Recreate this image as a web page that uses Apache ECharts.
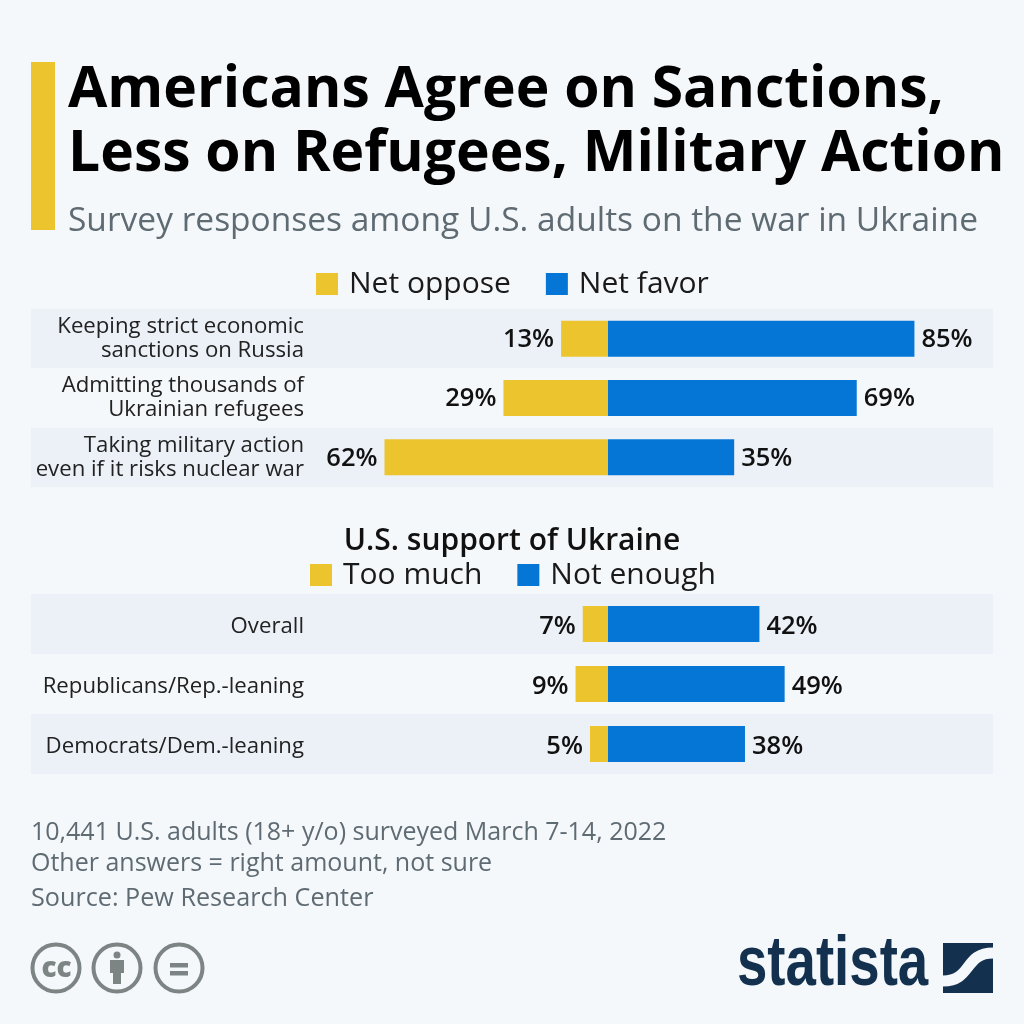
<!DOCTYPE html>
<html><head><meta charset="utf-8">
<style>html,body{margin:0;padding:0;background:#f5f8fb}#c{width:1024px;height:1024px}</style>
<script src="https://cdn.jsdelivr.net/npm/echarts@6/dist/echarts.min.js"></script>
</head><body><div id="c"></div>
<script>
const policyCategories = ['Keeping strict economic\nsanctions on Russia','Admitting thousands of\nUkrainian refugees','Taking military action\neven if it risks nuclear war'];
const netOppose = [13,29,62];
const netFavor = [85,69,35];
const supportCategories = ['Overall','Republicans/Rep.-leaning','Democrats/Dem.-leaning'];
const tooMuch = [7,9,5];
const notEnough = [42,49,38];

const YEL='#ebc42e', BLU='#0676d6', BAND='#ecf1f8', GREY='#5f6b73', F='Open Sans';
const BG='#f5f8fb';
const xMin=(31-608)/3.605, xMax=(993-608)/3.605;
function xAx(i){return {gridIndex:i,type:'value',min:xMin,max:xMax,show:false};}
function yAx(i,cats,shift){
  const label={inside:true,align:'right',margin:273,color:'#222',fontFamily:F,fontSize:22.2,lineHeight:24};
  if(shift){label.formatter=v=>'{a|'+v+'}';
    label.rich={a:{color:'#222',fontFamily:F,fontSize:22.2,lineHeight:24,padding:[shift,0,0,0]}};}
  return {gridIndex:i,type:'category',data:cats,inverse:true,
  axisLine:{show:false},axisTick:{show:false},splitLine:{show:false},
  splitArea:{show:true,areaStyle:{color:[BAND,'rgba(0,0,0,0)']}},axisLabel:label};}
function ser(name,i,vals,color,neg,dy){return {name,type:'bar',xAxisIndex:i,yAxisIndex:i,stack:'s'+i,barWidth:36,
  data:vals.map(v=>neg?-v:v),itemStyle:{color},animation:false,
  label:{show:true,position:neg?'left':'right',distance:7,offset:[0,dy],color:'#111',fontFamily:F,fontWeight:600,fontSize:25.5,
    formatter:p=>Math.abs(p.value)+'%'}};}
function leg(names,left,top,gap){return {data:names,left,top,orient:'horizontal',itemWidth:22,itemHeight:22,itemGap:gap,
  icon:'rect',textStyle:{fontFamily:F,fontSize:30,color:'#1a1a1a',padding:[0,0,0,6]},selectedMode:false};}
function t(text,x,y,size,weight,color,fam){return {type:'text',x,y,silent:true,
  style:{text,x:0,y:0,fontFamily:fam||F,fontSize:size,fontWeight:weight,fill:color,textVerticalAlign:'top'}};}
function circle(cx,cy){return {type:'circle',shape:{cx,cy,r:23.5},silent:true,style:{fill:'none',stroke:'#7d8484',lineWidth:4}};}
function rect(x,y,w,h,fill){return {type:'rect',shape:{x,y,width:w,height:h},silent:true,style:{fill}};}
const NAVY='#14304f';

const chart=echarts.init(document.getElementById('c'),null,{renderer:'canvas'});
chart.setOption({
  animation:false,backgroundColor:BG,
  title:[{text:'U.S. support of Ukraine',left:'center',top:526,padding:0,itemGap:0,
    textStyle:{fontFamily:F,fontSize:30,fontWeight:600,color:'#111'}}],
  legend:[leg(['Net oppose','Net favor'],311,264,35),leg(['Too much','Not enough'],305,555,35)],
  grid:[{left:31,width:962,top:309,height:178},{left:31,width:962,top:594,height:180}],
  xAxis:[xAx(0),xAx(1)],
  yAxis:[yAx(0,policyCategories,0),yAx(1,supportCategories,6)],
  series:[ser('Net oppose',0,netOppose,YEL,true,1),ser('Net favor',0,netFavor,BLU,false,1),
          ser('Too much',1,tooMuch,YEL,true,3),ser('Not enough',1,notEnough,BLU,false,3)],
  graphic:[
    rect(31,62,24,168,YEL),
    t('Americans Agree on Sanctions,',68,62,57,700,'#000'),
    t('Less on Refugees, Military Action',68,126,57,700,'#000'),
    t('Survey responses among U.S. adults on the war in Ukraine',68,204,33.5,400,GREY),
    t('10,441 U.S. adults (18+ y/o) surveyed March 7-14, 2022',31,820,25,400,GREY),
    t('Other answers = right amount, not sure',31,851,25,400,GREY),
    t('Source: Pew Research Center',31,886,25.2,400,GREY),
    circle(56,968),circle(117,968),circle(179,968),
    t('cc',41.5,955,28,800,'#7d8484'),
    {type:'circle',shape:{cx:117,cy:955,r:3.5},silent:true,style:{fill:'#7d8484'}},
    rect(110,960,14,13,'#7d8484'),rect(113,973,8,11,'#7d8484'),
    rect(170,963,18,4.5,'#7d8484'),rect(170,971,18,4.5,'#7d8484'),
    {type:'text',x:737,y:931,scaleX:0.78,silent:true,style:{text:'statista',x:0,y:0,fontFamily:'Liberation Sans',fontSize:70,fontWeight:700,fill:NAVY,textVerticalAlign:'top'}},
    rect(943,943,50,50,NAVY),
    {type:'bezierCurve',silent:true,shape:{x1:943,y1:981,cpx1:972,cpy1:981,cpx2:964,cpy2:953,x2:993,y2:953},style:{fill:'none',stroke:BG,lineWidth:11}}
  ]
});
</script></body></html>
